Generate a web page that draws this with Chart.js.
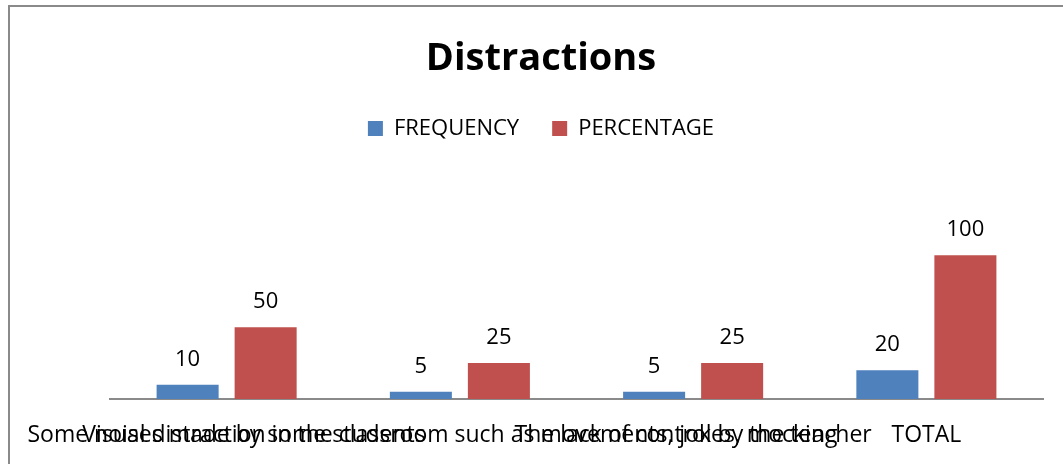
<!DOCTYPE html>
<html>
<head>
<meta charset="utf-8">
<script src="https://cdn.jsdelivr.net/npm/chart.js@4/dist/chart.umd.min.js"></script>
<style>
  html, body { margin: 0; padding: 0; background: #ffffff; }
  #wrap { position: relative; width: 1063px; height: 464px; overflow: hidden; background: #ffffff; }
  #frame { position: absolute; left: 8px; top: 5px; width: 1100px; height: 500px;
           border-left: 2px solid #8a8a8a; border-top: 2px solid #8a8a8a; box-sizing: border-box; pointer-events: none; }
  canvas { position: absolute; left: 0; top: 0; }
</style>
</head>
<body>
<div id="wrap">
  <canvas id="c" width="1063" height="464"></canvas>
  <div id="frame"></div>
</div>
<script>
const categories = [
  "Some noises made by some students",
  "Visual distraction in the classroom such as movements, jokes, mocking",
  "The lack of control by the teacher",
  "TOTAL"
];
const frequency = [10, 5, 5, 20];
const percentage = [50, 25, 25, 100];
const seriesNames = ["FREQUENCY", "PERCENTAGE"];
const chartTitle = "Distractions";
const yMin = 0;
const yMax = 120;

const FONT = "'Open Sans', 'Liberation Sans', sans-serif";

const valueLabels = {
  id: 'valueLabels',
  afterDatasetsDraw(chart) {
    const ctx = chart.ctx;
    ctx.save();
    ctx.font = "22px " + FONT;
    ctx.fillStyle = '#000000';
    ctx.textAlign = 'center';
    ctx.textBaseline = 'alphabetic';
    chart.data.datasets.forEach((ds, i) => {
      const meta = chart.getDatasetMeta(i);
      meta.data.forEach((bar, j) => {
        ctx.fillText(String(ds.data[j]), bar.x, bar.y - 19);
      });
    });
    ctx.restore();
  }
};

new Chart(document.getElementById('c'), {
  type: 'bar',
  data: {
    labels: categories,
    datasets: [
      { label: seriesNames[0], data: frequency, backgroundColor: '#4F81BD', xAxisID: 'x', yAxisID: 'y',
        categoryPercentage: 0.669, barPercentage: 0.795 },
      { label: seriesNames[1], data: percentage, backgroundColor: '#C0504D', xAxisID: 'x', yAxisID: 'y',
        categoryPercentage: 0.669, barPercentage: 0.795 }
    ]
  },
  options: {
    responsive: false,
    animation: false,
    events: [],
    layout: { padding: { top: 36, left: 30, right: 11, bottom: -8.6 } },
    plugins: {
      title: {
        display: true, text: chartTitle, color: '#000000',
        font: { family: FONT, size: 38, weight: 'bold', lineHeight: 1.2 },
        padding: { top: 0, bottom: 3 }
      },
      legend: {
        display: true, position: 'top',
        labels: {
          color: '#000000', boxWidth: 15, boxHeight: 15, padding: 33,
          font: { family: FONT, size: 22 }
        }
      },
      tooltip: { enabled: false }
    },
    scales: {
      x: {
        type: 'category', position: 'bottom',
        grid: { display: false, drawTicks: false },
        border: { display: true, color: '#8a8a8a', width: 2 },
        ticks: { autoSkip: false, maxRotation: 0, minRotation: 0, padding: 23, color: '#000000',
                 font: { family: FONT, size: 23, lineHeight: 1.2 } },
        afterFit(s) { s.paddingLeft = 0; s.paddingRight = 0; }
      },
      y: {
        type: 'linear', position: 'left', min: yMin, max: yMax,
        grid: { display: false, drawTicks: false },
        border: { display: false },
        ticks: { display: false },
        afterFit(s) { s.width = 80; }
      },
      padTop: {
        type: 'linear', position: 'top',
        grid: { display: false, drawTicks: false },
        border: { display: false },
        ticks: { display: false },
        afterFit(s) { s.height = 77; }
      },
      padRight: {
        type: 'linear', position: 'right',
        grid: { display: false, drawTicks: false },
        border: { display: false },
        ticks: { display: false },
        afterFit(s) { s.width = 9; }
      }
    }
  },
  plugins: [valueLabels]
});
</script>
</body>
</html>
